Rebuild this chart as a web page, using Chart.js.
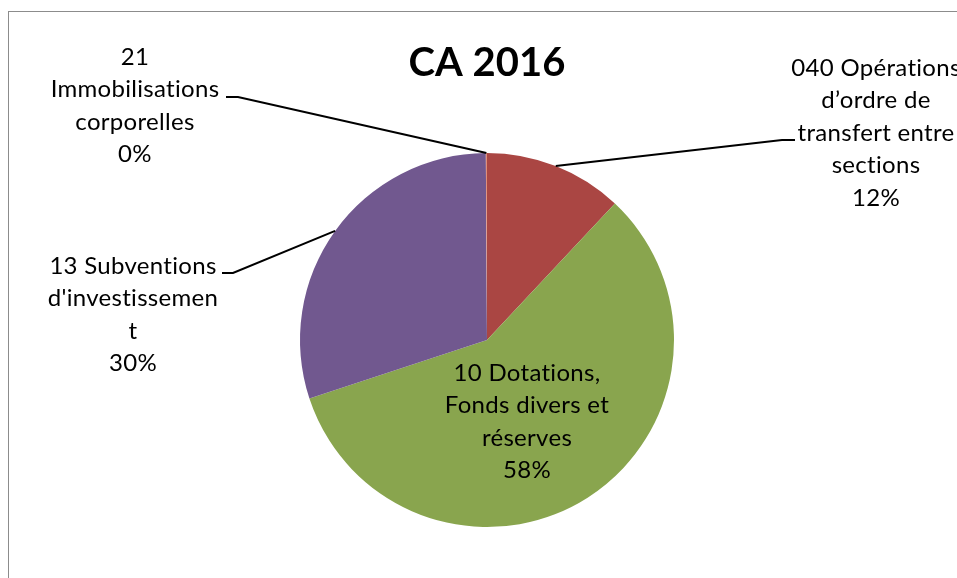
<!DOCTYPE html>
<html>
<head>
<meta charset="utf-8">
<script src="https://cdn.jsdelivr.net/npm/chart.js@4"></script>
<style>
  html, body { margin: 0; padding: 0; background: #fff; }
  #wrap { width: 957px; height: 578px; position: relative; }
</style>
</head>
<body>
<div id="wrap"><canvas id="graficoCA"></canvas></div>
<script>
// données du graphique
const categories = [
    '040 Opérations d\u2019ordre de transfert entre sections',
    '10 Dotations, Fonds divers et réserves',
    '13 Subventions d\'investissement',
    '21 Immobilisations corporelles'
];
const valeurs = [12, 58, 30, 0.1];
const couleurs = ['#AA4643', '#89A54E', '#71588F', '#E08E7A'];
// lignes des étiquettes telles qu'affichées
const etiquettes = [
    ['040 Opérations', 'd\u2019ordre de', 'transfert entre', 'sections'],
    ['10 Dotations,', 'Fonds divers et', 'réserves'],
    ['13 Subventions', 'd\'investissemen', 't'],
    ['21', 'Immobilisations', 'corporelles']
];

// placement des étiquettes (centre du texte, première ligne) et du coude des lignes de rappel
const placement = [
    { x: 876, y: 68, pas: 32.5, coude: [795, 140], fin: [782, 140] },
    { x: 527, y: 373, pas: 32.5, coude: null },
    { x: 133, y: 266, pas: 32.5, coude: [222, 273], fin: [233, 273] },
    { x: 135, y: 57, pas: 32.5, coude: [226, 97], fin: [238, 97] }
];

const police = 'Lato, "Open Sans", sans-serif';

const etiquettesPlugin = {
    id: 'etiquettes',
    afterDraw(chart) {
        const ctx = chart.ctx;
        const meta = chart.getDatasetMeta(0);
        const total = valeurs.reduce((a, b) => a + b, 0);

        ctx.save();
        // cadre
        ctx.strokeStyle = '#8c8c8c';
        ctx.lineWidth = 1;
        ctx.strokeRect(8.5, 11.5, 1200, 1200);

        // titre
        ctx.fillStyle = '#000';
        ctx.font = 'bold 40px ' + police;
        ctx.textAlign = 'center';
        ctx.textBaseline = 'middle';
        ctx.fillText('CA 2016', 487, 63);

        meta.data.forEach(function (arc, i) {
            const p = placement[i];
            const mid = (arc.startAngle + arc.endAngle) / 2;
            const ax = arc.x + Math.cos(mid) * arc.outerRadius;
            const ay = arc.y + Math.sin(mid) * arc.outerRadius;

            if (p.coude) {
                ctx.strokeStyle = '#000';
                ctx.lineWidth = 2;
                ctx.beginPath();
                ctx.moveTo(p.coude[0], p.coude[1]);
                ctx.lineTo(p.fin[0], p.fin[1]);
                ctx.lineTo(ax, ay);
                ctx.stroke();
            }

            const lignes = etiquettes[i].concat([Math.round(valeurs[i] / total * 100) + '%']);
            ctx.fillStyle = '#000';
            ctx.font = '24px ' + police;
            ctx.letterSpacing = '0.3px';
            lignes.forEach(function (t, k) {
                ctx.fillText(t, p.x, p.y + k * p.pas);
            });
            ctx.letterSpacing = '0px';
        });
        ctx.restore();
    }
};

window.onload = function () {
    const ctxCA = document.getElementById('graficoCA').getContext('2d');
    const graficoCA = new Chart(ctxCA, {
        type: 'pie',
        data: {
            labels: categories,
            datasets: [{
                data: valeurs,
                backgroundColor: couleurs,
                borderWidth: 0
            }]
        },
        options: {
            responsive: true,
            maintainAspectRatio: false,
            animation: false,
            layout: {
                padding: { top: 153, bottom: 51, left: 300, right: 283 }
            },
            plugins: {
                legend: { display: false },
                title: { display: false },
                tooltip: { enabled: false }
            }
        },
        plugins: [etiquettesPlugin]
    });
};
</script>
</body>
</html>
